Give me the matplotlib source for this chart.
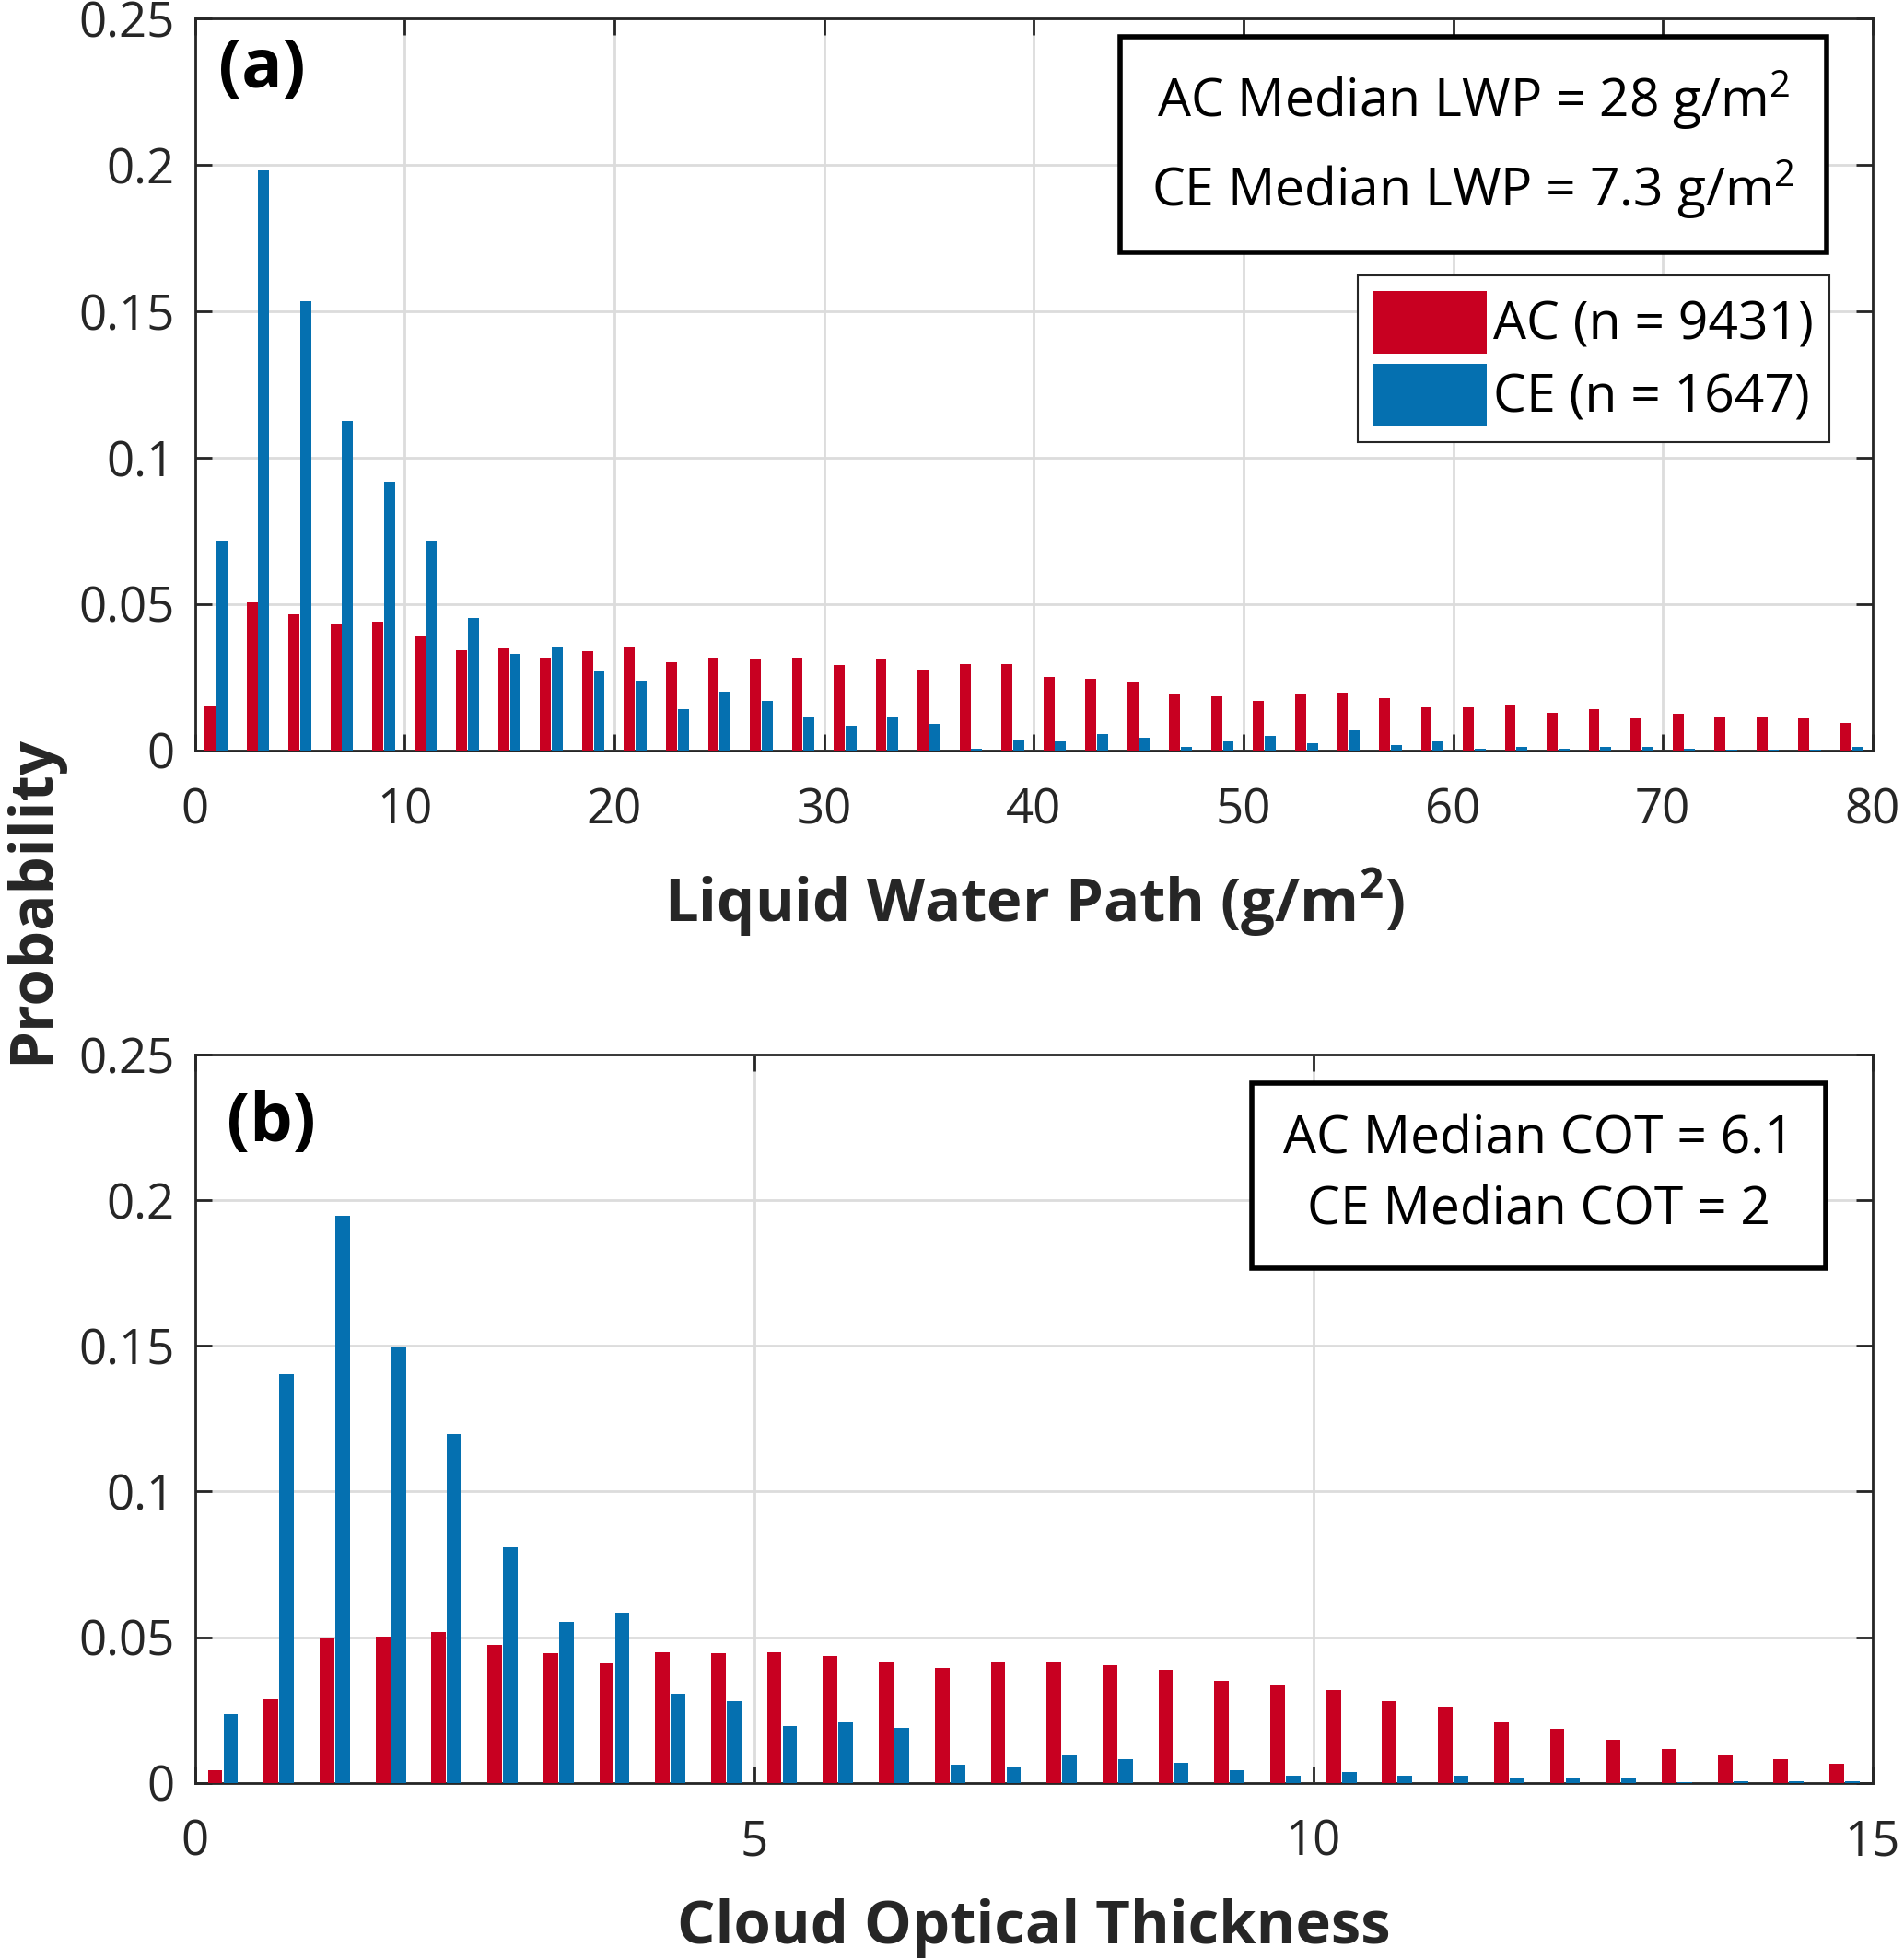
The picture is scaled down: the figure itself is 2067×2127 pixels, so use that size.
import matplotlib
matplotlib.use("Agg")
import matplotlib.pyplot as plt
import numpy as np

plt.rcParams["font.family"] = ["Open Sans", "DejaVu Sans"]
plt.rcParams["mathtext.default"] = "regular"

RED = "#C80021"
BLUE = "#0570B0"
AXC = "#262626"
GRID = "#DCDCDC"

# LWP histogram, 2 g/m2 bins from 0 to 80
lwp_centers = np.arange(1, 80, 2)
ac_lwp = [0.0150, 0.0505, 0.0464, 0.0430, 0.0440, 0.0391, 0.0342, 0.0347, 0.0316, 0.0339,
          0.0355, 0.0301, 0.0317, 0.0310, 0.0317, 0.0292, 0.0314, 0.0277, 0.0294, 0.0295,
          0.0249, 0.0245, 0.0233, 0.0195, 0.0186, 0.0168, 0.0192, 0.0196, 0.0178, 0.0146,
          0.0148, 0.0156, 0.0127, 0.0140, 0.0110, 0.0124, 0.0116, 0.0116, 0.0109, 0.0092]
ce_lwp = [0.0717, 0.1980, 0.1533, 0.1124, 0.0918, 0.0717, 0.0451, 0.0328, 0.0352, 0.0268,
          0.0238, 0.0139, 0.0199, 0.0169, 0.0116, 0.0085, 0.0116, 0.0090, 0.0006, 0.0036,
          0.0031, 0.0054, 0.0042, 0.0012, 0.0031, 0.0048, 0.0023, 0.0067, 0.0018, 0.0031,
          0.0005, 0.0012, 0.0005, 0.0012, 0.0012, 0.0005, 0.0002, 0.0001, 0.0001, 0.0012]

# COT histogram, 0.5 bins from 0 to 15
cot_centers = np.arange(0.25, 15, 0.5)
ac_cot = [0.0042, 0.0287, 0.0498, 0.0501, 0.0519, 0.0474, 0.0444, 0.0411, 0.0447, 0.0444,
          0.0449, 0.0435, 0.0415, 0.0394, 0.0415, 0.0415, 0.0403, 0.0388, 0.0349, 0.0337,
          0.0318, 0.0281, 0.0260, 0.0206, 0.0186, 0.0146, 0.0117, 0.0097, 0.0080, 0.0066]
ce_cot = [0.0236, 0.1402, 0.1949, 0.1494, 0.1197, 0.0809, 0.0553, 0.0585, 0.0304, 0.0280,
          0.0195, 0.0208, 0.0190, 0.0062, 0.0055, 0.0098, 0.0080, 0.0067, 0.0044, 0.0025,
          0.0037, 0.0025, 0.0025, 0.0013, 0.0019, 0.0013, 0.0002, 0.0006, 0.0006, 0.0006]

n_ac, n_ce = 9431, 1647
TICK_FS = 38
BOX_FS = 41
LAB_FS = 47


def style(ax, xmax, xticks):
    ax.set_xlim(0, xmax)
    ax.set_ylim(0, 0.25)
    ax.set_xticks(xticks)
    ax.set_yticks([0, 0.05, 0.1, 0.15, 0.2, 0.25])
    ax.set_yticklabels(["0", "0.05", "0.1", "0.15", "0.2", "0.25"])
    ax.grid(color=GRID, lw=2, zorder=0)
    ax.set_axisbelow(True)
    for s in ax.spines.values():
        s.set_color(AXC)
        s.set_linewidth(2)
    ax.tick_params(direction="in", length=13, width=2, colors=AXC, labelcolor="#262626",
                   labelsize=TICK_FS, top=True, right=True)
    ax.tick_params(axis="x", pad=28)
    ax.tick_params(axis="y", pad=16)


fig = plt.figure(figsize=(20.67, 21.27), dpi=100)

# ── (a) LWP ─────────────────────────
ax1 = fig.add_axes([0.1024, 0.6170, 0.8811, 0.3736])
w = 2.0
ax1.bar(lwp_centers - 0.28 * w / 2, ac_lwp, width=0.26 * w, color=RED, zorder=3,
        label=f"AC (n = {n_ac})")
ax1.bar(lwp_centers + 0.28 * w / 2, ce_lwp, width=0.26 * w, color=BLUE, zorder=3,
        label=f"CE (n = {n_ce})")
style(ax1, 80, np.arange(0, 81, 10))
ax1.set_xlabel("Liquid Water Path (g/m$^2$)", fontsize=LAB_FS, fontweight="bold",
               color="#262626", labelpad=24)
ax1.text(0.014, 0.93, "(a)", transform=ax1.transAxes, fontsize=53, fontweight="bold",
         va="center", ha="left")
ax1.text(0.762, 0.827, "AC Median LWP = 28 g/m$^2$\nCE Median LWP = 7.3 g/m$^2$",
         transform=ax1.transAxes, fontsize=BOX_FS, ha="center", va="center",
         linespacing=1.55, zorder=5,
         bbox=dict(boxstyle="square,pad=0.6", fc="white", ec="black", lw=4))
leg = ax1.legend(loc="upper right", bbox_to_anchor=(0.974, 0.649), fontsize=BOX_FS,
                 handlelength=2.15, handleheight=1.45, handletextpad=0.12,
                 labelspacing=0.2, borderpad=0.3, borderaxespad=0,
                 fancybox=False, framealpha=1, edgecolor="#262626")
leg.get_frame().set_linewidth(1.5)

# ── (b) COT ─────────────────────────
ax2 = fig.add_axes([0.1024, 0.0900, 0.8811, 0.3715])
w = 0.5
ax2.bar(cot_centers - 0.28 * w / 2, ac_cot, width=0.26 * w, color=RED, zorder=3)
ax2.bar(cot_centers + 0.28 * w / 2, ce_cot, width=0.26 * w, color=BLUE, zorder=3)
style(ax2, 15, [0, 5, 10, 15])
ax2.set_xlabel("Cloud Optical Thickness", fontsize=LAB_FS, fontweight="bold",
               color="#262626", labelpad=24)
ax2.text(0.019, 0.906, "(b)", transform=ax2.transAxes, fontsize=53, fontweight="bold",
         va="center", ha="left")
ax2.text(0.801, 0.834, "AC Median COT = 6.1\nCE Median COT = 2",
         transform=ax2.transAxes, fontsize=BOX_FS, ha="center", va="center",
         linespacing=1.45, zorder=5,
         bbox=dict(boxstyle="square,pad=0.6", fc="white", ec="black", lw=4))

fig.text(0.017, 0.541, "Probability", rotation=90, fontsize=LAB_FS, fontweight="bold",
         color="#262626", ha="center", va="center")

fig.savefig("out.png", dpi=100)
